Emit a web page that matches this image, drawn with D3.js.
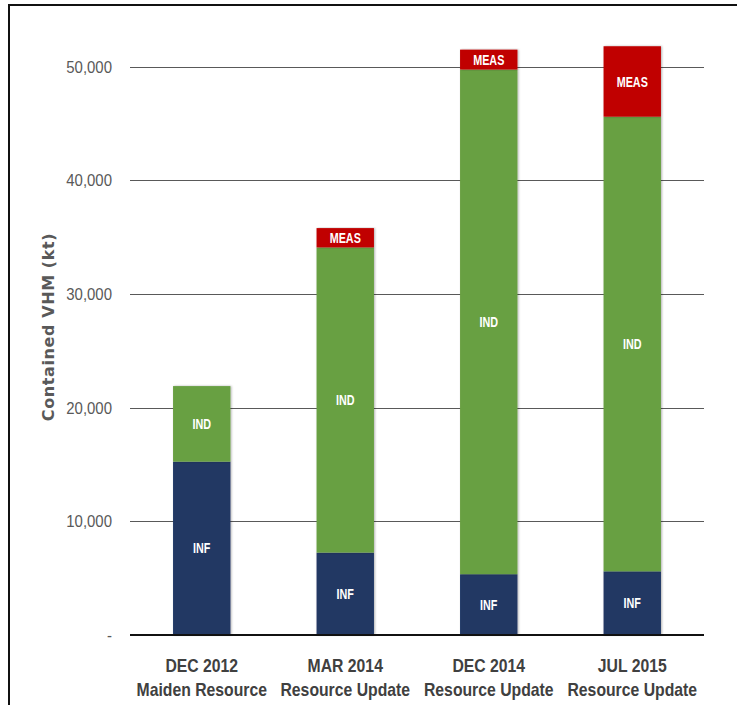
<!DOCTYPE html>
<html><head><meta charset="utf-8">
<script src="https://cdn.jsdelivr.net/npm/d3@7"></script>
<style>
html,body{margin:0;padding:0;background:#fff;}
svg{display:block;}
</style></head>
<body>
<svg id="chart" width="737" height="705"></svg>
<script>
const categories = ["DEC 2012|Maiden Resource","MAR 2014|Resource Update","DEC 2014|Resource Update","JUL 2015|Resource Update"];
const seriesNames = ["INF","IND","MEAS"];
const infValues  = [15250, 7250, 5350, 5600];
const indValues  = [6650, 26850, 44400, 40000];
const measValues = [0, 1700, 1750, 6200];
const yTicks = [0,10000,20000,30000,40000,50000];
const yTickLabels = ["-","10,000","20,000","30,000","40,000","50,000"];
const colors = ["#203864","#68a042","#c00000"];

const svg = d3.select("#chart");
const W = 737, H = 705;
const x0 = 130, x1 = 704, yBase = 635, yTop = 66.7;
const FONT = "'Liberation Sans',Arial,sans-serif";

// border
svg.append("path").attr("d",`M9,${H+5} L9,5 L${W+5},5`).attr("fill","none").attr("stroke","#111").attr("stroke-width",2);

const x = d3.scaleBand().domain(categories).range([x0,x1]).paddingInner(0.6).paddingOuter(0.3);
const y = d3.scaleLinear().domain([0,50000]).range([yBase,yTop]);

const defs = svg.append("defs");
const f = defs.append("filter").attr("id","sh").attr("x","-20%").attr("y","-5%").attr("width","140%").attr("height","110%");
f.append("feDropShadow").attr("dx",1).attr("dy",0).attr("stdDeviation",1.2).attr("flood-color","#000").attr("flood-opacity",0.3);

// gridlines
svg.append("g").selectAll("line").data(yTicks.filter(d=>d>0)).join("line")
  .attr("x1",x0).attr("x2",x1).attr("y1",d=>Math.round(y(d))+0.5).attr("y2",d=>Math.round(y(d))+0.5)
  .attr("stroke","#595959").attr("stroke-width",1);

// y axis labels (condensed)
svg.append("g").selectAll("text").data(yTicks).join("text")
  .attr("transform",d=>`translate(112,${y(d)}) scale(0.88,1)`)
  .attr("dy","0.36em").attr("text-anchor","end")
  .attr("font-family",FONT).attr("font-size",17).attr("fill","#595959")
  .text((d,i)=>yTickLabels[i]);

// stacked data
const table = categories.map((c,i)=>({cat:c, INF:infValues[i], IND:indValues[i], MEAS:measValues[i]}));
const stack = d3.stack().keys(seriesNames)(table);

const gBars = svg.append("g");
stack.forEach((s,si)=>{
  gBars.append("g").attr("fill",colors[si]).selectAll("rect").data(s.filter(d=>d[1]-d[0]>0)).join("rect")
    .attr("x",d=>x(d.data.cat)).attr("width",x.bandwidth())
    .attr("y",d=>y(d[1])).attr("height",d=>y(d[0])-y(d[1]))
    .attr("filter","url(#sh)");
});
stack.forEach((s,si)=>{
  svg.append("g").selectAll("text").data(s.filter(d=>d[1]-d[0]>0)).join("text")
    .attr("transform",d=>`translate(${x(d.data.cat)+x.bandwidth()/2},${(y(d[0])+y(d[1]))/2}) scale(0.77,1)`)
    .attr("dy","0.36em").attr("text-anchor","middle")
    .attr("font-family",FONT).attr("font-weight","bold")
    .attr("font-size",14).attr("fill","#fff").text(seriesNames[si]);
});

// baseline
svg.append("line").attr("x1",x0).attr("x2",x1).attr("y1",yBase).attr("y2",yBase).attr("stroke","#111").attr("stroke-width",2);

// x category labels (condensed)
const xl = svg.append("g").selectAll("text").data(categories).join("text")
  .attr("transform",d=>`translate(${x(d)+x.bandwidth()/2},0) scale(0.83,1)`)
  .attr("text-anchor","middle")
  .attr("font-family",FONT).attr("font-weight","bold")
  .attr("font-size",19).attr("fill","#404040");
xl.each(function(d){
  const parts = d.split("|");
  const t = d3.select(this);
  t.append("tspan").attr("x",0).attr("y",672).text(parts[0]);
  t.append("tspan").attr("x",0).attr("y",696).text(parts[1]);
});

// y title
svg.append("text").attr("transform","translate(54,327) rotate(-90)").attr("text-anchor","middle")
  .attr("font-family","'DejaVu Sans',sans-serif").attr("font-weight","bold").attr("font-size",16)
  .attr("letter-spacing",0.6).attr("fill","#595959").text("Contained VHM (kt)");
</script>
</body></html>
